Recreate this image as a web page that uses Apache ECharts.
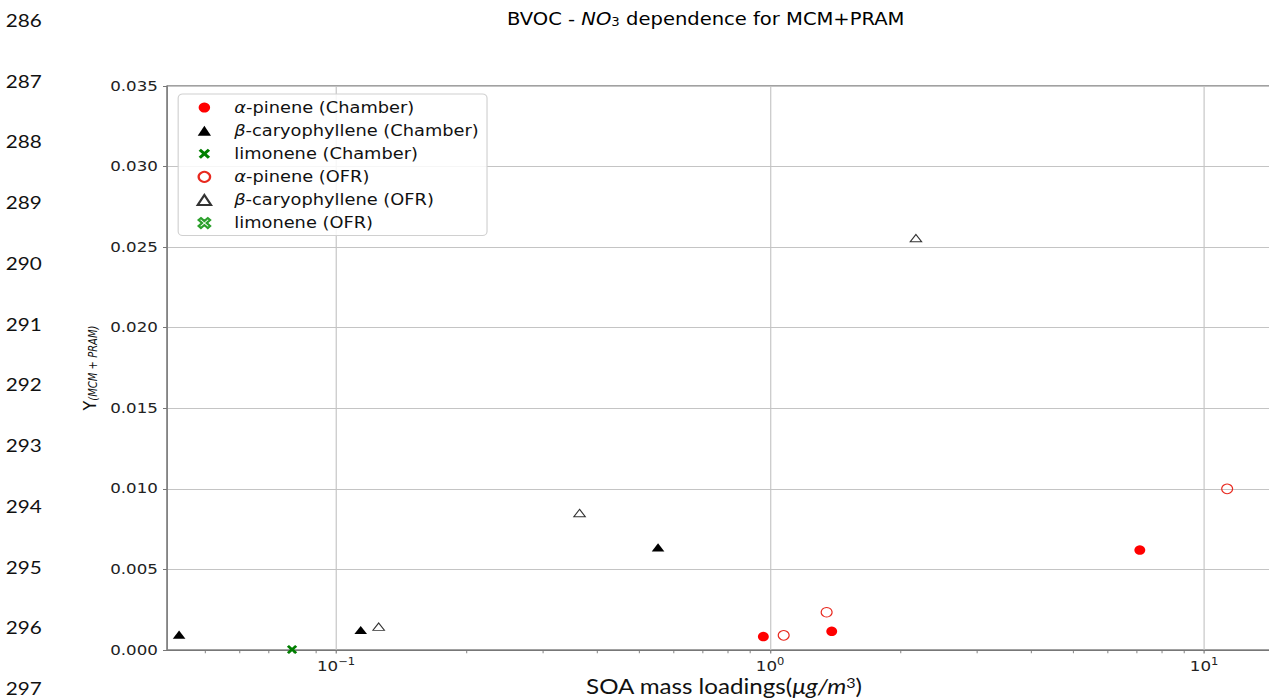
<!DOCTYPE html>
<html lang="en">
<head>
<meta charset="UTF-8">
<title>BVOC - NO3 dependence for MCM+PRAM</title>
<style>
    html, body { margin: 0; padding: 0; background: #fff; overflow: hidden; }
    /* the reference picture is stretched sideways, so the chart is too */
    #chart {
        width: 1104px;
        height: 698px;
        transform: scaleX(1.1495);
        transform-origin: 0 0;
    }
</style>
</head>
<body>
<div id="chart"></div>
<script src="https://cdn.jsdelivr.net/npm/echarts@6/dist/echarts.min.js"></script>
<script>
    // [SOA mass loading, Y]
    var aPineneChamber = [[0.965, 0.00083], [1.387, 0.00116], [7.11, 0.0062]];
    var bCaryChamber = [[0.0435, 0.00095], [0.114, 0.00124], [0.552, 0.00637]];
    var limoneneChamber = [[0.0792, 0.00003]];
    var aPineneOFR = [[1.075, 0.00091], [1.35, 0.00234], [11.3, 0.0100]];
    var bCaryOFR = [[0.1254, 0.00145], [0.364, 0.0085], [2.168, 0.02556]];
    var limoneneOFR = [];

    var seriesNames = [
        'α-pinene (Chamber)', 'β-caryophyllene (Chamber)', 'limonene (Chamber)',
        'α-pinene (OFR)', 'β-caryophyllene (OFR)', 'limonene (OFR)'
    ];
    var minorTicks = [0.05, 0.06, 0.07, 0.08, 0.09, 0.2, 0.3, 0.4, 0.5, 0.6, 0.7, 0.8, 0.9,
        2, 3, 4, 5, 6, 7, 8, 9];
    var lineNumbers = ['286', '287', '288', '289', '290', '291', '292', '293', '294', '295', '296', '297'];

    var X_MARK = 'path://M20,0L50,30L80,0L100,20L70,50L100,80L80,100L50,70L20,100L0,80L30,50L0,20Z';
    var TRI_MARK = 'path://M55,0L110,95L0,95Z';
    var MATH = 'DejaVu Sans';

    function scatter(name, data, symbol, size, fill, stroke) {
        return {
            name: name,
            type: 'scatter',
            data: data,
            symbol: symbol,
            symbolSize: size,
            symbolKeepAspect: true,
            z: 3,
            itemStyle: {
                color: fill,
                borderColor: stroke,
                borderWidth: fill === 'transparent' ? 1 : 0,
                opacity: 1
            }
        };
    }

    var chart = echarts.init(document.getElementById('chart'), null, {renderer: 'svg'});

    var graphics = lineNumbers.map(function (n, i) {
        return {
            type: 'text', x: 5, y: 20 + i * 60.75,
            style: {text: n, font: '18px Lato', fill: '#111', verticalAlign: 'middle'}
        };
    });
    graphics.push({
        type: 'text', x: 614, y: 19,
        style: {
            text: '{a|BVOC - }{i|NO}{s|3}{a| dependence for MCM+PRAM}',
            align: 'center', verticalAlign: 'middle',
            rich: {
                a: {fontFamily: MATH, fontSize: 17, color: '#111'},
                i: {fontFamily: MATH, fontSize: 17, fontStyle: 'italic', color: '#111'},
                s: {fontFamily: MATH, fontSize: 11.5, color: '#111', padding: [7, 0, 0, 0]}
            }
        }
    });

    var option = {
        animation: false,
        backgroundColor: '#fff',
        graphic: graphics,
        grid: {
            left: 145.3, top: 86, width: 968.7, height: 564,
            show: true, borderColor: '#444', borderWidth: 1,
            outerBoundsMode: 'none'
        },
        legend: {
            data: seriesNames,
            orient: 'vertical',
            left: 155, top: 94,
            padding: [2, 7, 1, 16],
            itemWidth: 42, itemHeight: 10, itemGap: 0,
            backgroundColor: 'rgba(255,255,255,0.85)',
            borderColor: '#d0d0d0', borderWidth: 1, borderRadius: 4,
            formatter: function (name) {
                return name.replace(/^([αβ])/, '{i|$1}');
            },
            textStyle: {
                fontFamily: MATH, fontSize: 15.5, color: '#111', lineHeight: 23.1,
                rich: {i: {fontFamily: MATH, fontSize: 15.5, fontStyle: 'italic', lineHeight: 23.1}}
            }
        },
        xAxis: {
            type: 'log', logBase: 10,
            min: 0.0408, max: 15,
            name: '{a|SOA mass loadings(}{i|μg/m}{s|3}{a|)}',
            nameLocation: 'middle', nameGap: 25,
            nameMoveOverlap: false,
            nameTextStyle: {
                rich: {
                    a: {fontFamily: 'Lato', fontSize: 21, color: '#111'},
                    i: {fontFamily: 'Lato', fontSize: 21, fontStyle: 'italic', color: '#111'},
                    s: {fontFamily: 'Lato', fontSize: 14, color: '#111', padding: [0, 0, 8, 0]}
                }
            },
            axisLine: {lineStyle: {color: '#777', width: 1}},
            axisTick: {inside: false, length: 3.5, lineStyle: {color: '#777'}},
            axisLabel: {
                margin: 7,
                showMinLabel: false, showMaxLabel: false,
                formatter: function (v) {
                    var l = Math.log(v) / Math.LN10;
                    var e = Math.round(l);
                    if (Math.abs(l - e) > 1e-6) return '';
                    return '{b|10}{s|' + String(e).replace('-', '\u2212') + '}';
                },
                rich: {
                    b: {fontFamily: MATH, fontSize: 14.5, color: '#222'},
                    s: {fontFamily: MATH, fontSize: 10, color: '#222', padding: [0, 0, 8, 0]}
                }
            },
            splitLine: {show: true, lineStyle: {color: '#c4c4c4', width: 1}}
        },
        yAxis: {
            type: 'value',
            min: 0, max: 0.035, interval: 0.005,
            name: '{y|Y}{s|(MCM + PRAM)}',
            nameLocation: 'middle', nameRotate: 90, nameGap: 59,
            nameMoveOverlap: false,
            nameTextStyle: {
                rich: {
                    y: {fontFamily: MATH, fontSize: 16, color: '#111'},
                    s: {fontFamily: MATH, fontSize: 10, fontStyle: 'italic', color: '#111', padding: [7, 0, 0, 0]}
                }
            },
            axisLine: {show: true, lineStyle: {color: '#777', width: 1}},
            axisTick: {show: true, inside: false, length: 3.5, lineStyle: {color: '#777'}},
            axisLabel: {
                margin: 8,
                fontFamily: MATH, fontSize: 14.5, color: '#222',
                formatter: function (v) { return v.toFixed(3); }
            },
            splitLine: {show: true, lineStyle: {color: '#c4c4c4', width: 1}}
        },
        series: [
            scatter(seriesNames[0], aPineneChamber, 'circle', 9.5, '#ff0000', '#ff0000'),
            scatter(seriesNames[1], bCaryChamber, TRI_MARK, [11, 9.5], '#000000', '#000000'),
            scatter(seriesNames[2], limoneneChamber, X_MARK, 9, '#007f00', '#007f00'),
            scatter(seriesNames[3], aPineneOFR, 'circle', 9.5, 'transparent', '#e8291f'),
            scatter(seriesNames[4], bCaryOFR, TRI_MARK, [10, 8.6], 'transparent', '#333333'),
            scatter(seriesNames[5], limoneneOFR, X_MARK, 8, 'transparent', '#2ca02c'),
            {
                name: 'minor ticks',
                type: 'scatter',
                silent: true,
                data: minorTicks.map(function (v) { return [v, 0]; }),
                symbol: 'rect',
                symbolSize: [1, 2.5],
                symbolOffset: [0, 2],
                itemStyle: {color: '#777'},
                z: 1
            }
        ]
    };
    chart.setOption(option);
</script>
</body>
</html>
